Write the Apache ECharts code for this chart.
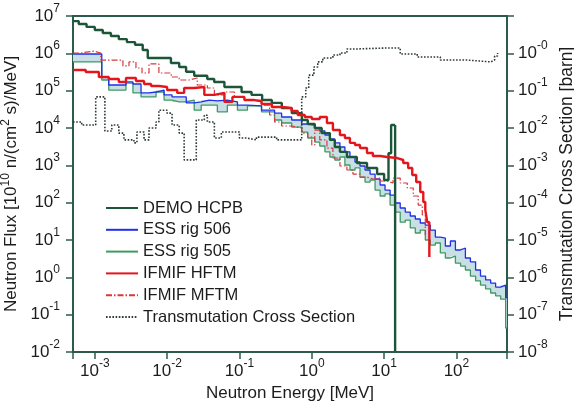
<!DOCTYPE html>
<html><head><meta charset="utf-8">
<script src="https://cdn.jsdelivr.net/npm/echarts@6/dist/echarts.min.js"></script>
<style>html,body{margin:0;padding:0;background:#fff}#c{width:574px;height:406px}</style>
</head><body><div id="c"></div>
<script>
// ---------- data (energies in MeV, flux in 1e10 n/(cm2 s)/MeV, cross section in barn) ----------
const seriesNames = ['DEMO HCPB', 'ESS rig 506', 'ESS rig 505', 'IFMIF HFTM', 'IFMIF MFTM', 'Transmutation Cross Section'];

// ESS bins: edges (n+1) and values per bin (n)
const essEdges = [5e-4, 1.25e-3, 1.56e-3, 2.02e-3, 2.70e-3, 3.37e-3, 4.36e-3, 5.62e-3, 7.03e-3, 9.08e-3,
  1.17e-2, 1.47e-2, 1.84e-2, 2.37e-2, 2.96e-2, 3.83e-2, 4.95e-2, 6.81e-2, 9.38e-2, 0.129,
  0.202, 0.306, 0.383, 0.527, 0.726, 0.88, 1.10, 1.29, 1.52, 1.78,
  2.08, 2.45, 2.87, 3.37, 3.96, 4.64, 5.45, 6.40, 7.50, 8.80,
  10.3, 12.1, 14.2, 16.7, 19.6, 23.0, 27.0, 31.6, 37.1, 43.5,
  51.1, 59.9, 70.3, 82.5, 96.8, 114, 133, 156, 184, 215,
  253, 297, 348, 408, 479, 500];
const ess506 = [9.6e5, 2.3e5, 1.42e5, 1.42e5, 1.71e5, 1.51e5, 8.7e4, 9.2e4, 1.04e5, 7.7e4,
  6.8e4, 6.8e4, 4.7e4, 5.0e4, 5.6e4, 5.3e4, 5.6e4, 5.0e4, 4.1e4, 3.9e4,
  3.0e4, 2.5e4, 1.97e4, 1.64e4, 1.28e4, 1.2e4, 1.0e4, 8.3e3, 6.5e3, 5.1e3,
  4.0e3, 3.1e3, 2.3e3, 1.67e3, 1.23e3, 960, 750, 585, 430, 297,
  218, 160, 98, 72, 56, 44, 36.5, 28.5, 25, 18.5,
  12, 11.3, 6.9, 9.4, 5.4, 6.1, 3.3, 2.6, 1.57, 1.08,
  0.85, 0.70, 0.55, 0.62, 0.28];
const ess505 = [5.9e5, 1.93e5, 1.04e5, 1.04e5, 1.6e5, 8.7e4, 6.8e4, 6.8e4, 9.2e4, 5.6e4,
  5.0e4, 5.0e4, 5.6e4, 3.0e4, 4.1e4, 4.1e4, 2.7e4, 4.1e4, 3.0e4, 3.9e4,
  2.7e4, 1.64e4, 1.36e4, 1.06e4, 7.8e3, 5.4e3, 4.2e3, 3.3e3, 2.3e3, 1.67e3,
  1.39e3, 1.67e3, 1.02e3, 750, 850, 486, 357, 405, 218, 151,
  171, 86, 56, 30, 34, 21, 15.4, 18.5, 10, 7.3,
  8.3, 4.5, 3.3, 3.7, 2.4, 2.0, 1.57, 1.08, 0.80, 0.62,
  0.49, 0.38, 0.32, 0.26, 0.044];

// step series: value holds from E[i] to E[i+1]; last entry is the end point
const demoE = [5e-4, 6.0e-4, 7.7e-4, 1.0e-3, 1.29e-3, 1.67e-3, 2.15e-3, 2.78e-3, 3.6e-3, 4.6e-3,
  5.4e-3, 0.0113, 0.0147, 0.0183, 0.0237, 0.0359, 0.0448, 0.062, 0.107, 0.147,
  0.206, 0.28, 0.385, 0.53, 0.73, 0.88, 1.1, 1.37, 1.78, 2.08,
  2.45, 3.06, 4.2, 5.8, 8.0, 10.0, 11.5, 12.5, 14.2];
const demoF = [7.3e6, 6.1e6, 5.1e6, 4.2e6, 3.5e6, 2.9e6, 2.4e6, 2.0e6, 1.7e6, 1.23e6,
  7.5e5, 5.5e5, 4.3e5, 3.2e5, 2.5e5, 2.05e5, 1.7e5, 1.25e5, 9.2e4, 7.7e4,
  5.6e4, 4.7e4, 3.4e4, 2.5e4, 1.64e4, 1.28e4, 1.0e4, 7.3e3, 4.8e3, 3.1e3,
  2.3e3, 1.67e3, 1.15e3, 850, 585, 405, 2.1e3, 1.2e4, 1.2e4];
const demoCutoff = [14.2, 1.2e4, 0.0105]; // energy, flux before cut, flux after cut

const hftmE = [5e-4, 7.5e-4, 1.14e-3, 1.56e-3, 2.15e-3, 2.70e-3, 3.71e-3, 4.8e-3, 6.0e-3, 7.7e-3,
  1.0e-2, 1.38e-2, 1.72e-2, 2.37e-2, 3.27e-2, 4.5e-2, 6.2e-2, 8.0e-2, 0.117, 0.161,
  0.202, 0.28, 0.385, 0.527, 0.64, 0.80, 1.0, 1.29, 1.62, 1.96,
  2.45, 2.87, 3.37, 3.96, 4.64, 5.8, 7.0, 8.8, 11.0, 15.2,
  18.4, 21.5, 24.5, 27.8, 31.6, 34.8, 37.1, 39.5, 42.2];
const hftmF = [3.58e5, 3.16e5, 2.32e5, 2.05e5, 1.71e5, 2.18e5, 1.82e5, 1.51e5, 1.33e5, 1.25e5,
  1.04e5, 8.7e4, 1.18e5, 1.25e5, 7.7e4, 8.7e4, 5.0e4, 6.8e4, 5.6e4, 5.3e4,
  4.4e4, 3.65e4, 3.43e4, 2.85e4, 2.23e4, 1.97e4, 1.74e4, 1.97e4, 1.36e4, 8.8e3,
  6.5e3, 5.4e3, 4.0e3, 3.5e3, 2.9e3, 2.14e3, 1.78e3, 1.67e3, 1.57e3, 1.39e3,
  1.15e3, 850, 550, 357, 193, 104, 64, 30, 3.5];

const mftmE = [5e-4, 6.4e-4, 9.7e-4, 1.21e-3, 2.02e-3, 2.45e-3, 2.97e-3, 3.71e-3, 4.5e-3, 5.62e-3,
  7.7e-3, 1.14e-2, 1.47e-2, 2.02e-2, 2.61e-2, 3.6e-2, 4.5e-2, 6.2e-2, 8.5e-2, 0.117,
  0.161, 0.202, 0.261, 0.306, 0.383, 0.527, 0.726, 0.88, 1.0, 1.10,
  1.29, 1.62, 1.96, 2.45, 3.06, 3.71, 4.64, 5.8, 7.0, 8.8,
  11.0, 13.3, 16.7, 20.9, 25.3, 29.6, 33.7, 37.1];
const mftmF = [1.02e6, 1.15e6, 1.02e6, 6.6e5, 6.6e5, 4.6e5, 5.9e5, 4.05e5, 2.97e5, 5.2e5,
  2.97e5, 2.32e5, 1.93e5, 2.18e5, 1.42e5, 1.18e5, 7.7e4, 9.2e4, 6.8e4, 5.6e4,
  5.0e4, 4.1e4, 2.23e4, 1.45e4, 1.13e4, 1.0e4, 7.3e3, 5.7e3, 3.5e3, 8.8e3,
  4.8e3, 2.9e3, 1.57e3, 960, 750, 585, 486, 430, 457, 380,
  336, 457, 336, 247, 151, 86, 46.7, 13.6];

const transE = [5e-4, 6.6e-4, 1.03e-3, 1.38e-3, 1.72e-3, 2.15e-3, 2.53e-3, 3.48e-3, 3.83e-3, 4.8e-3,
  5.62e-3, 7.03e-3, 7.7e-3, 1.0e-2, 1.17e-2, 1.47e-2, 1.72e-2, 2.53e-2, 3.27e-2, 3.6e-2,
  4.5e-2, 5.62e-2, 0.1, 0.125, 0.172, 0.327, 0.726, 0.826, 0.908, 1.07,
  1.21, 1.42, 1.96, 2.45, 3.06, 4.2, 11.0, 16.7, 28.7, 59.9,
  142, 297, 337, 371];
const transS = [0.0145, 0.012, 0.068, 0.0083, 0.012, 0.0073, 0.0048, 0.004, 0.0078, 0.0048,
  0.01, 0.0145, 0.030, 0.025, 0.012, 0.0073, 0.0014, 0.0164, 0.022, 0.0145,
  0.0054, 0.0078, 0.0054, 0.0048, 0.0057, 0.0048, 0.068, 0.118, 0.26, 0.43,
  0.59, 0.75, 0.90, 1.02, 1.31, 1.39, 1.39, 0.96, 0.80, 0.66,
  0.59, 0.66, 0.85, 1.02];

// axis ranges
const xRange = [5e-4, 500];
const fluxRange = [1e-2, 1e7];
const sigmaRange = [1e-8, 10];

// ---------- helpers ----------
function binPairs(edges, vals) {
  const d = vals.map((v, i) => [edges[i], v]);
  d.push([edges[edges.length - 1], vals[vals.length - 1]]);
  return d;
}
function pairs(xs, ys) { return xs.map((x, i) => [x, ys[i]]); }
function decade(v) {
  const e = Math.round(Math.log10(v));
  if (Math.abs(v / Math.pow(10, e) - 1) > 1e-6) return null;
  return e;
}

const FONT = '"Liberation Sans", Arial, sans-serif';
const AX = '#2c5b4b';
const TXT = '#1c1c1c';
const DEMO_C = '#1c5538';
const labelRich = {
  b: { fontSize: 17, fontFamily: FONT, color: TXT },
  s: { fontSize: 12, fontFamily: FONT, color: TXT, padding: [0, 0, 15, 0] }
};

const chart = echarts.init(document.getElementById('c'), null, { renderer: 'canvas' });

const commonAxis = {
  type: 'log', logBase: 10, splitNumber: 10,
  axisLine: { show: true, onZero: false, lineStyle: { color: AX, width: 2 } },
  axisTick: { show: true, length: 7, lineStyle: { color: AX, width: 1.5 } },
  splitLine: { show: false }, minorTick: { show: false }, minorSplitLine: { show: false }
};

const option = {
  animation: false,
  backgroundColor: '#fff',
  grid: {
    left: 73, right: 67, top: 16, bottom: 54, containLabel: false, outerBoundsMode: 'none',
    show: true, borderColor: AX, borderWidth: 2, backgroundColor: 'transparent'
  },
  legend: {
    orient: 'vertical', left: 100, top: 194, itemWidth: 32, itemHeight: 1, itemGap: 3.8,
    selectedMode: false, data: seriesNames, itemStyle: { borderWidth: 0 },
    textStyle: { fontSize: 16.5, fontFamily: FONT, color: TXT, lineHeight: 18 }
  },
  xAxis: Object.assign({}, commonAxis, {
    min: xRange[0], max: xRange[1],
    axisLabel: {
      margin: 6, rich: labelRich,
      formatter: v => { const e = decade(v); return e === null ? '' : '{b|10}{s|' + e + '}'; }
    },
    name: 'Neutron Energy [MeV]', nameLocation: 'middle', nameGap: 30,
    nameTextStyle: { fontSize: 17, fontFamily: FONT, color: TXT }
  }),
  yAxis: [
    Object.assign({}, commonAxis, {
      position: 'left', min: fluxRange[0], max: fluxRange[1],
      axisLabel: {
        margin: 13, rich: labelRich,
        formatter: v => { const e = decade(v); return e === null ? '' : '{b|10}{s|' + e + '}'; }
      },
      name: '{t|Neutron Flux [10}{s|10}{t| n/(cm}{s|2}{t| s)/MeV]}',
      nameLocation: 'middle', nameRotate: 90, nameGap: 47,
      nameTextStyle: {
        rich: {
          t: { fontSize: 17, fontFamily: FONT, color: TXT },
          s: { fontSize: 12, fontFamily: FONT, color: TXT, padding: [0, 0, 10, 0] }
        }
      }
    }),
    Object.assign({}, commonAxis, {
      position: 'right', min: sigmaRange[0], max: sigmaRange[1],
      axisLabel: {
        margin: 11, rich: labelRich,
        formatter: v => { const e = decade(v); return (e === null || e > 0) ? '' : '{b|10}{s|-' + (-e) + '}'; }
      },
      name: 'Transmutation Cross Section [barn]',
      nameLocation: 'middle', nameRotate: 90, nameGap: 50,
      nameTextStyle: { fontSize: 17.5, fontFamily: FONT, color: TXT }
    })
  ],
  series: [
    {
      type: 'custom', silent: true, z: 1, xAxisIndex: 0, yAxisIndex: 0,
      data: [[1, 1]],
      renderItem: function (params, api) {
        const pts = [];
        for (let i = 0; i < ess506.length; i++) {
          pts.push(api.coord([essEdges[i], ess506[i]]));
          pts.push(api.coord([essEdges[i + 1], ess506[i]]));
        }
        for (let i = ess505.length - 1; i >= 0; i--) {
          pts.push(api.coord([essEdges[i + 1], ess505[i]]));
          pts.push(api.coord([essEdges[i], ess505[i]]));
        }
        return { type: 'polygon', shape: { points: pts }, style: { fill: '#c9dfe6', stroke: null } };
      }
    },
    {
      name: 'ESS rig 505', type: 'line', step: 'end', symbol: 'none', z: 3,
      data: binPairs(essEdges, ess505),
      lineStyle: { color: '#3f9a62', width: 1.3 }, itemStyle: { color: '#3f9a62' }
    },
    {
      name: 'ESS rig 506', type: 'line', step: 'end', symbol: 'none', z: 4,
      data: binPairs(essEdges, ess506),
      lineStyle: { color: '#1f30e6', width: 1.3 }, itemStyle: { color: '#1f30e6' }
    },
    {
      name: 'DEMO HCPB', type: 'line', step: 'end', symbol: 'none', z: 7,
      data: pairs(demoE, demoF),
      lineStyle: { color: DEMO_C, width: 2.4 }, itemStyle: { color: DEMO_C }
    },
    {
      type: 'line', symbol: 'none', z: 7, silent: true,
      data: [[demoCutoff[0], demoCutoff[1]], [demoCutoff[0], demoCutoff[2]]],
      lineStyle: { color: DEMO_C, width: 2.4 }, itemStyle: { color: DEMO_C }
    },
    {
      name: 'Transmutation Cross Section', type: 'line', step: 'end', symbol: 'none', z: 5, yAxisIndex: 1,
      data: pairs(transE, transS),
      lineStyle: { color: '#2f3a36', width: 1.6, type: [1.6, 1.6] }, itemStyle: { color: '#2f3a36' }
    },
    {
      name: 'IFMIF MFTM', type: 'line', step: 'end', symbol: 'none', z: 6,
      data: pairs(mftmE, mftmF),
      lineStyle: { color: '#d6393c', width: 1.2, type: [6, 2, 1.5, 2] }, itemStyle: { color: '#d6393c' }
    },
    {
      name: 'IFMIF HFTM', type: 'line', step: 'end', symbol: 'none', z: 8,
      data: pairs(hftmE, hftmF),
      lineStyle: { color: '#e3161c', width: 2.4 }, itemStyle: { color: '#e3161c' }
    }
  ]
};
chart.setOption(option);
</script>
</body></html>
